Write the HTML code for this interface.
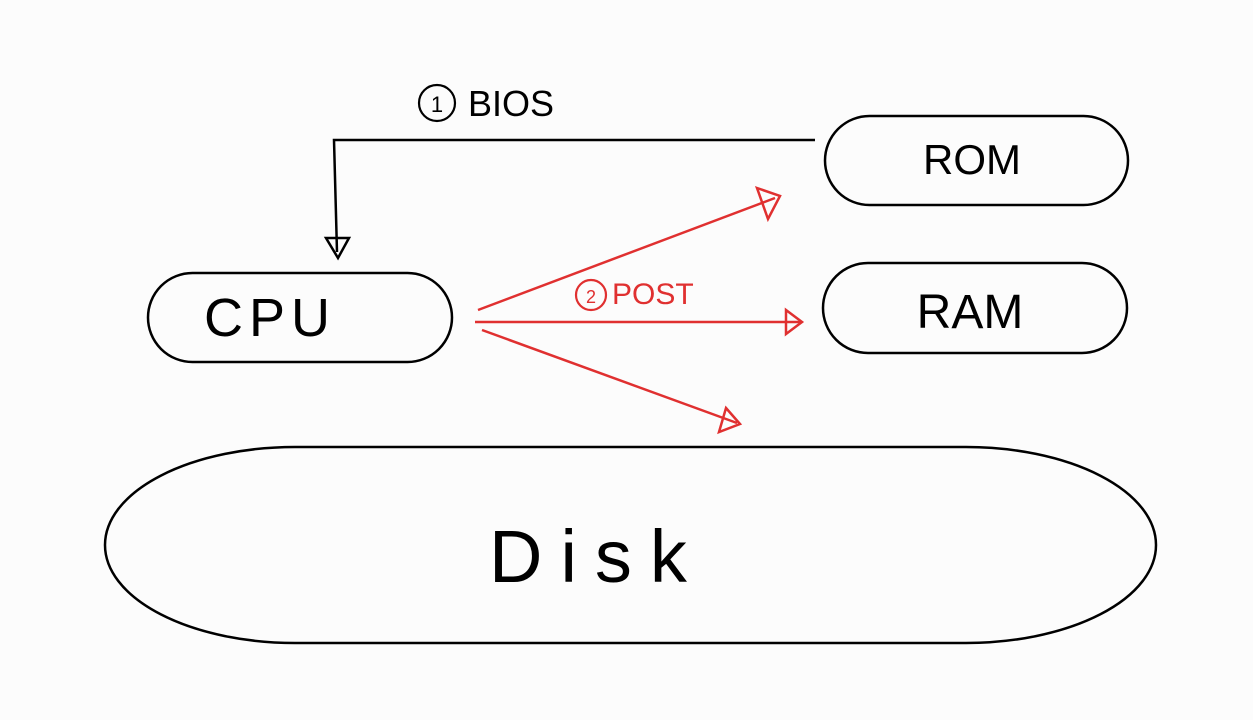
<!DOCTYPE html>
<html><head><meta charset="utf-8"><style>
html,body{margin:0;padding:0;background:#fcfcfc;}
svg{display:block;}
text{font-family:"Liberation Sans",sans-serif;}
</style></head><body>
<svg width="1253" height="720" viewBox="0 0 1253 720" xmlns="http://www.w3.org/2000/svg">
<rect width="1253" height="720" fill="#fcfcfc"/>
<g fill="none" stroke="#000" stroke-width="2.5">
<rect x="825" y="116" width="303" height="89" rx="44.5"/>
<rect x="823" y="263" width="304" height="90" rx="45"/>
<rect x="148" y="273" width="304" height="89" rx="44.5"/>
<rect x="105" y="447" width="1051" height="196" rx="190" ry="98"/>
<polyline points="815,140 334,140 337,252"/>
<polygon points="326,238 349,238 338,258"/>
</g>
<g fill="none" stroke="#e03030" stroke-width="2.5">
<line x1="478" y1="310" x2="775" y2="198"/>
<polygon points="757,188 780,196 768,219"/>
<line x1="475" y1="322" x2="800" y2="322"/>
<polygon points="786,310 802,322 786,334"/>
<line x1="482" y1="330" x2="737" y2="423"/>
<polygon points="726,408 740,424 719,432"/>
</g>
<circle cx="437" cy="103" r="18" fill="none" stroke="#000" stroke-width="2.2"/>
<text x="437" y="112" font-size="22" text-anchor="middle">1</text>
<text x="468" y="116" font-size="36">BIOS</text>
<circle cx="591" cy="295" r="15" fill="none" stroke="#e03030" stroke-width="2.2"/>
<text x="591" y="303" font-size="18" fill="#e03030" text-anchor="middle">2</text>
<text x="612" y="304" font-size="30" fill="#e03030">POST</text>
<text x="270" y="336" font-size="54" text-anchor="middle" letter-spacing="6">CPU</text>
<text x="972" y="174" font-size="42" text-anchor="middle">ROM</text>
<text x="970" y="328" font-size="48" text-anchor="middle">RAM</text>
<text x="597" y="582" font-size="74" text-anchor="middle" letter-spacing="18">Disk</text>
</svg>
</body></html>
